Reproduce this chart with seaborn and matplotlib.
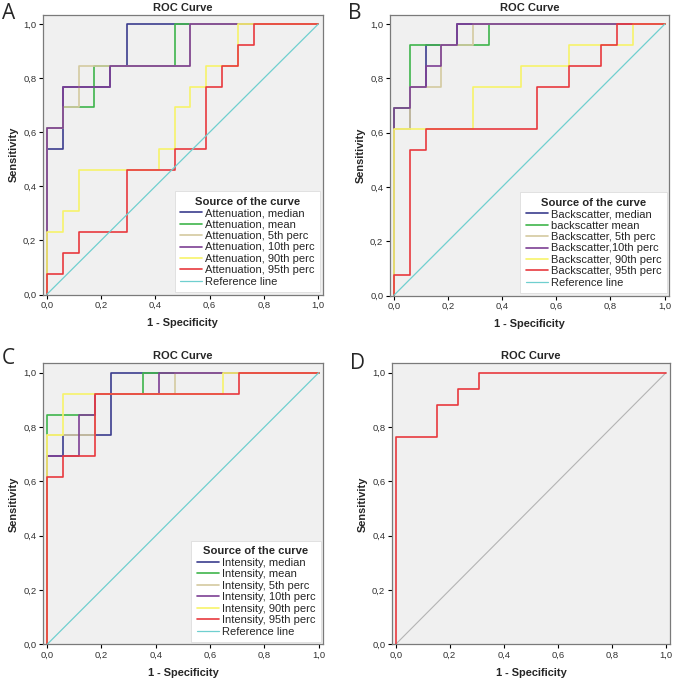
import matplotlib
matplotlib.use("Agg")
import matplotlib.pyplot as plt
import seaborn as sns
import pandas as pd

sns.set_theme(style="ticks")
plt.rcParams['font.family'] = ['Liberation Sans', 'DejaVu Sans']

# Panel A - attenuation (step-curve corner points: 1 - specificity, sensitivity)
att_median_x = [0, 0, 0.059, 0.059, 0.235, 0.235, 0.294, 0.294, 1]
att_median_y = [0, 0.538, 0.538, 0.769, 0.769, 0.846, 0.846, 1, 1]
att_mean_x = [0, 0, 0.059, 0.059, 0.176, 0.176, 0.471, 0.471, 1]
att_mean_y = [0, 0.615, 0.615, 0.692, 0.692, 0.846, 0.846, 1, 1]
att_p5_x = [0, 0, 0.059, 0.059, 0.118, 0.118, 0.529, 0.529, 1]
att_p5_y = [0, 0.615, 0.615, 0.692, 0.692, 0.846, 0.846, 1, 1]
att_p10_x = [0, 0, 0.059, 0.059, 0.235, 0.235, 0.529, 0.529, 1]
att_p10_y = [0, 0.615, 0.615, 0.769, 0.769, 0.846, 0.846, 1, 1]
att_p90_x = [0, 0, 0.059, 0.059, 0.118, 0.118, 0.412, 0.412, 0.471, 0.471,
             0.529, 0.529, 0.588, 0.588, 0.706, 0.706, 1]
att_p90_y = [0, 0.231, 0.231, 0.308, 0.308, 0.462, 0.462, 0.538, 0.538, 0.692,
             0.692, 0.769, 0.769, 0.846, 0.846, 1, 1]
att_p95_x = [0, 0, 0.059, 0.059, 0.118, 0.118, 0.294, 0.294, 0.471, 0.471,
             0.588, 0.588, 0.647, 0.647, 0.706, 0.706, 0.765, 0.765, 1]
att_p95_y = [0, 0.077, 0.077, 0.154, 0.154, 0.231, 0.231, 0.462, 0.462, 0.538,
             0.538, 0.769, 0.769, 0.846, 0.846, 0.923, 0.923, 1, 1]

# Panel B - backscatter
bs_median_x = [0, 0, 0.059, 0.059, 0.118, 0.118, 0.235, 0.235, 1]
bs_median_y = [0, 0.615, 0.615, 0.769, 0.769, 0.923, 0.923, 1, 1]
bs_mean_x = [0, 0, 0.059, 0.059, 0.353, 0.353, 1]
bs_mean_y = [0, 0.692, 0.692, 0.923, 0.923, 1, 1]
bs_p5_x = [0, 0, 0.059, 0.059, 0.176, 0.176, 0.294, 0.294, 1]
bs_p5_y = [0, 0.615, 0.615, 0.769, 0.769, 0.923, 0.923, 1, 1]
bs_p10_x = [0, 0, 0.059, 0.059, 0.118, 0.118, 0.176, 0.176, 0.235, 0.235, 1]
bs_p10_y = [0, 0.692, 0.692, 0.769, 0.769, 0.846, 0.846, 0.923, 0.923, 1, 1]
bs_p90_x = [0, 0, 0.294, 0.294, 0.471, 0.471, 0.647, 0.647, 0.882, 0.882, 1]
bs_p90_y = [0, 0.615, 0.615, 0.769, 0.769, 0.846, 0.846, 0.923, 0.923, 1, 1]
bs_p95_x = [0, 0, 0.059, 0.059, 0.118, 0.118, 0.529, 0.529, 0.647, 0.647,
            0.765, 0.765, 0.824, 0.824, 1]
bs_p95_y = [0, 0.077, 0.077, 0.538, 0.538, 0.615, 0.615, 0.769, 0.769, 0.846,
            0.846, 0.923, 0.923, 1, 1]

# Panel C - intensity
int_median_x = [0, 0, 0.059, 0.059, 0.235, 0.235, 1]
int_median_y = [0, 0.692, 0.692, 0.769, 0.769, 1, 1]
int_mean_x = [0, 0, 0.176, 0.176, 0.353, 0.353, 1]
int_mean_y = [0, 0.846, 0.846, 0.923, 0.923, 1, 1]
int_p5_x = [0, 0, 0.176, 0.176, 0.471, 0.471, 1]
int_p5_y = [0, 0.769, 0.769, 0.923, 0.923, 1, 1]
int_p10_x = [0, 0, 0.118, 0.118, 0.176, 0.176, 0.412, 0.412, 1]
int_p10_y = [0, 0.692, 0.692, 0.846, 0.846, 0.923, 0.923, 1, 1]
int_p90_x = [0, 0, 0.059, 0.059, 0.647, 0.647, 1]
int_p90_y = [0, 0.769, 0.769, 0.923, 0.923, 1, 1]
int_p95_x = [0, 0, 0.059, 0.059, 0.176, 0.176, 0.706, 0.706, 1]
int_p95_y = [0, 0.615, 0.615, 0.692, 0.692, 0.923, 0.923, 1, 1]

# Panel D - single curve
d_x = [0, 0, 0.154, 0.154, 0.231, 0.231, 0.308, 0.308, 1]
d_y = [0, 0.765, 0.765, 0.882, 0.882, 0.941, 0.941, 1, 1]

ref_x = [0, 1]
ref_y = [0, 1]

att_labels = ["Attenuation, median", "Attenuation, mean", "Attenuation, 5th perc",
              "Attenuation, 10th perc", "Attenuation, 90th perc", "Attenuation, 95th perc"]
bs_labels = ["Backscatter, median", "backscatter mean", "Backscatter, 5th perc",
             "Backscatter,10th perc", "Backscatter, 90th perc", "Backscatter, 95th perc"]
int_labels = ["Intensity, median", "Intensity, mean", "Intensity, 5th perc",
              "Intensity, 10th perc", "Intensity, 90th perc", "Intensity, 95th perc"]

tick_vals = [0, 0.2, 0.4, 0.6, 0.8, 1.0]
tick_labels = ["0,0", "0,2", "0,4", "0,6", "0,8", "1,0"]

colors = ["#3b3d8e", "#3fb54c", "#d4caa0", "#7d3f94", "#f7f36a", "#e8393e"]
ref_color = "#6fcfcf"

fig = plt.figure(figsize=(6.73, 6.82), dpi=100)
W, H = 673, 682


def make_ax(left, top, right, bottom):
    return fig.add_axes([left / W, 1 - bottom / H, (right - left) / W, (bottom - top) / H])


def style_ax(ax):
    ax.set_facecolor("#f0f0f0")
    ax.set_xlim(-0.0155, 1.016)
    ax.set_ylim(0, 1.034)
    ax.set_xticks(tick_vals)
    ax.set_xticklabels(tick_labels)
    ax.set_yticks(tick_vals)
    ax.set_yticklabels(tick_labels)
    ax.tick_params(labelsize=6.8, length=3, width=0.8, colors="black", pad=1.5,
                   labelcolor="#333333")
    for s in ax.spines.values():
        s.set_color("#7a7a7a")
        s.set_linewidth(0.9)
    ax.set_title("ROC Curve", fontsize=8, fontweight="bold", pad=3)
    ax.set_xlabel("1 - Specificity", fontsize=7.9, fontweight="bold")
    ax.set_ylabel("Sensitivity", fontsize=7.9, fontweight="bold")
    ax.xaxis.set_label_coords(0.5, -0.085)
    ax.yaxis.set_label_coords(-0.085, 0.5)


def draw_panel(ax, series, labels):
    for (x, y), lab, c in zip(series, labels, colors):
        df = pd.DataFrame({"fpr": x, "tpr": y})
        sns.lineplot(data=df, x="fpr", y="tpr", sort=False, estimator=None,
                     color=c, linewidth=1.2, label=lab, ax=ax)
    ref = pd.DataFrame({"fpr": ref_x, "tpr": ref_y})
    sns.lineplot(data=ref, x="fpr", y="tpr", sort=False, estimator=None,
                 color=ref_color, linewidth=0.9, label="Reference line", ax=ax)
    leg = ax.legend(loc="lower right", title="Source of the curve", fontsize=8,
                    title_fontproperties={"weight": "bold", "size": 8.1},
                    frameon=True, fancybox=False, framealpha=1, edgecolor="#dddddd",
                    handlelength=2.0, handletextpad=0.25, labelspacing=0.13,
                    borderaxespad=0.2, borderpad=0.5)
    leg.get_frame().set_linewidth(0.6)
    style_ax(ax)


axA = make_ax(42.5, 15, 322.5, 294.5)
draw_panel(axA, [(att_median_x, att_median_y), (att_mean_x, att_mean_y),
                 (att_p5_x, att_p5_y), (att_p10_x, att_p10_y),
                 (att_p90_x, att_p90_y), (att_p95_x, att_p95_y)], att_labels)

axB = make_ax(389.5, 15, 669, 295.5)
draw_panel(axB, [(bs_median_x, bs_median_y), (bs_mean_x, bs_mean_y),
                 (bs_p5_x, bs_p5_y), (bs_p10_x, bs_p10_y),
                 (bs_p90_x, bs_p90_y), (bs_p95_x, bs_p95_y)], bs_labels)

axC = make_ax(43, 363.5, 323, 644.3)
draw_panel(axC, [(int_median_x, int_median_y), (int_mean_x, int_mean_y),
                 (int_p5_x, int_p5_y), (int_p10_x, int_p10_y),
                 (int_p90_x, int_p90_y), (int_p95_x, int_p95_y)], int_labels)

axD = make_ax(391.5, 363.5, 670.3, 644.3)
sns.lineplot(x=ref_x, y=ref_y, color="#b4b4b4", linewidth=0.8, ax=axD)
sns.lineplot(x=d_x, y=d_y, sort=False, estimator=None, color="#e8393e",
             linewidth=1.2, ax=axD)
style_ax(axD)

for lab, (px, py) in zip("ABCD", [(2, 3), (348, 3), (2, 348), (350, 353)]):
    fig.text(px / W, 1 - py / H, lab, fontsize=15, va="top",
             family=["Open Sans", "DejaVu Sans"])

fig.savefig("out.png", dpi=100)
